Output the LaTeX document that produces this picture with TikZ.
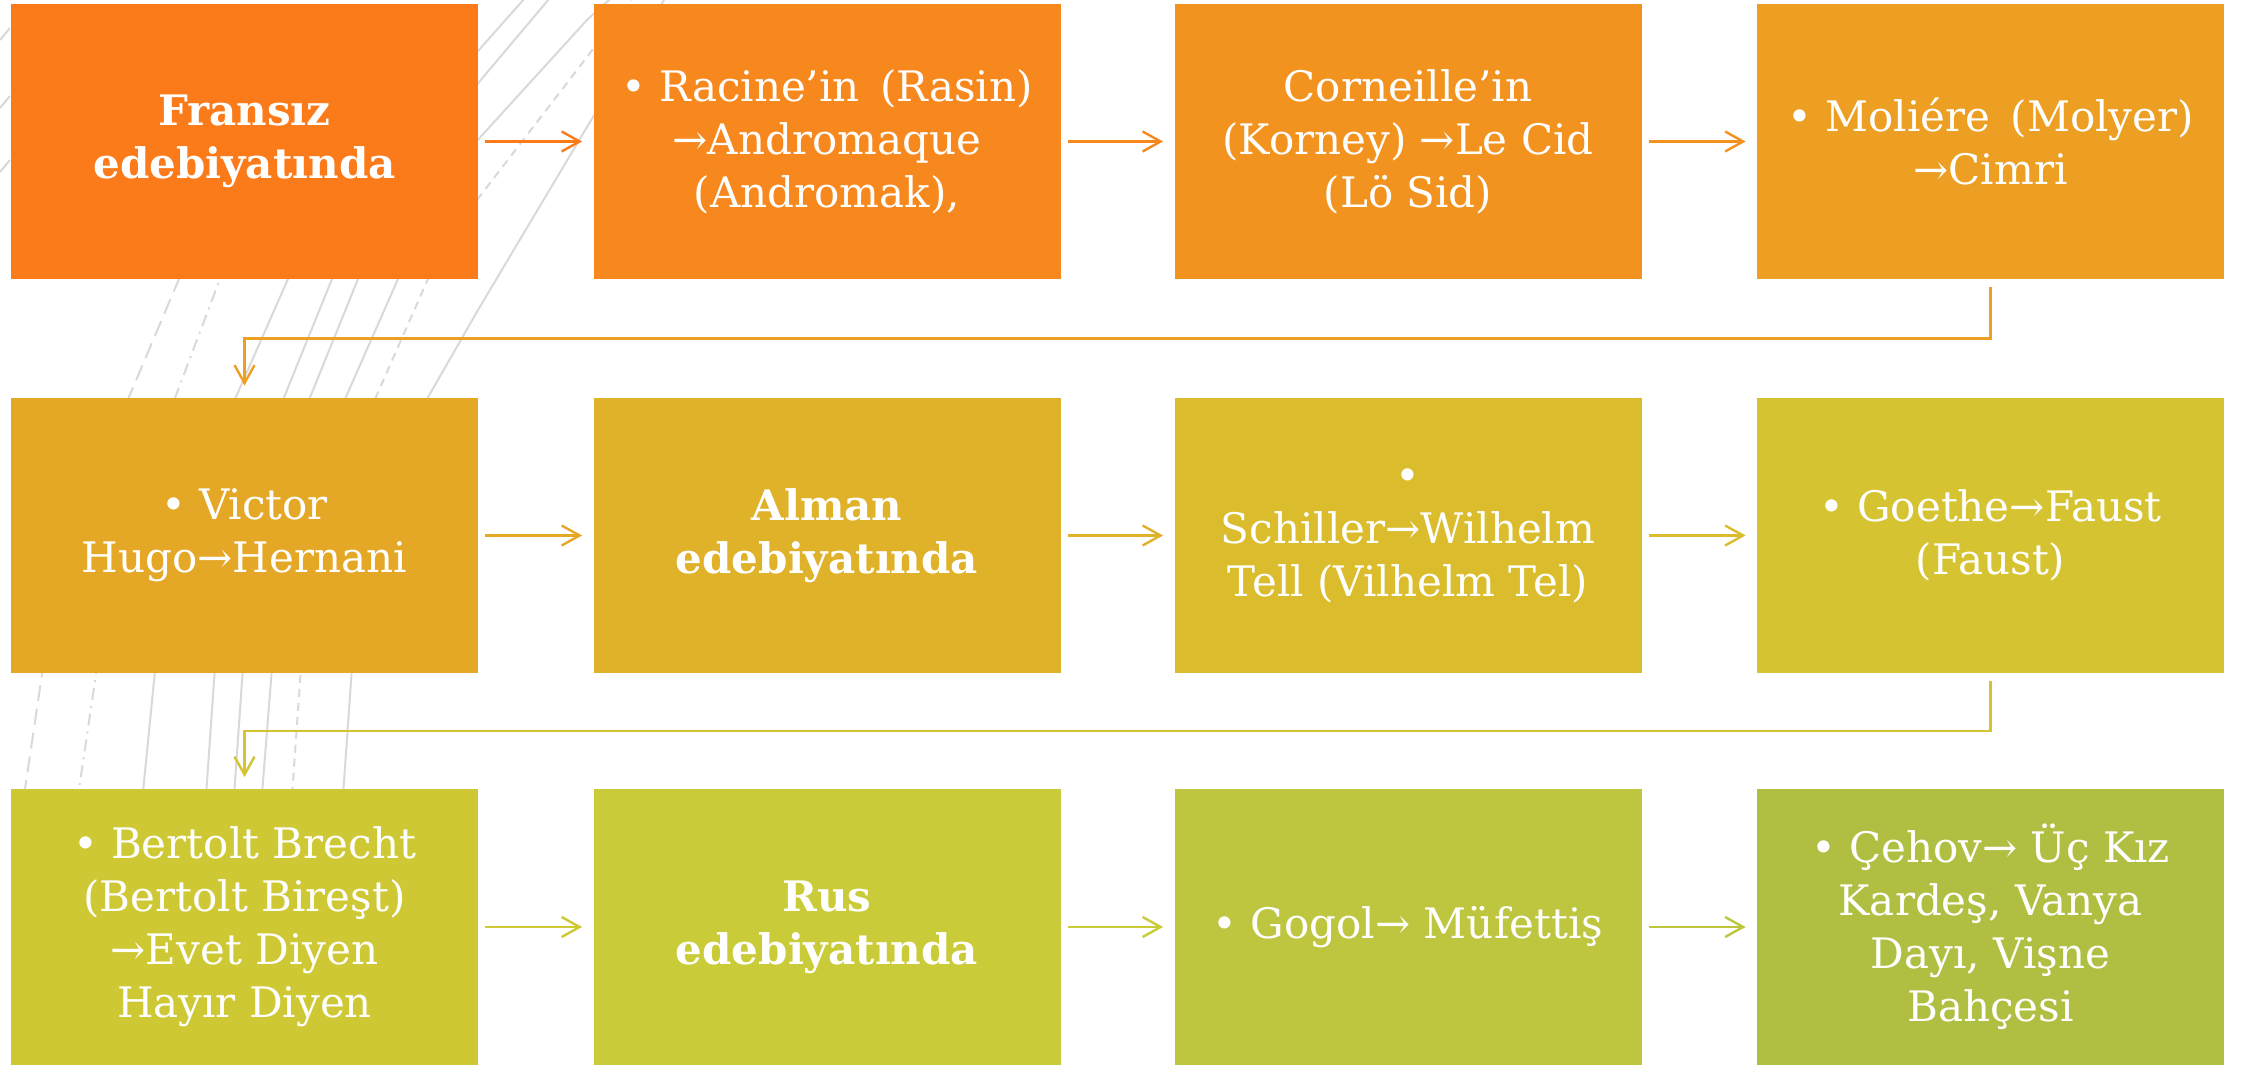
\documentclass[tikz,border=0pt]{standalone}
\usepackage{fontspec}
\setmainfont{DejaVu Serif}
\usetikzlibrary{arrows.meta,calc}
\definecolor{c1}{HTML}{FB7B1A}
\definecolor{c2}{HTML}{F7881E}
\definecolor{c3}{HTML}{F2931F}
\definecolor{c4}{HTML}{EC9F22}
\definecolor{c5}{HTML}{E5A826}
\definecolor{c6}{HTML}{DFB229}
\definecolor{c7}{HTML}{DABC2D}
\definecolor{c8}{HTML}{D6C332}
\definecolor{c9}{HTML}{CFC835}
\definecolor{c10}{HTML}{CACB38}
\definecolor{c11}{HTML}{BDC63E}
\definecolor{c12}{HTML}{B0BF42}
\definecolor{decogray}{HTML}{D9D9D9}
\begin{document}
\begin{tikzpicture}[x=0.5pt,y=-0.5pt,
  box/.style={rectangle, minimum width=233.5pt, minimum height=137.5pt, inner sep=0pt, align=center, text=white, font=\fontsize{21}{26.5}\selectfont},
  boldbox/.style={box, font=\fontsize{21}{26.5}\selectfont\bfseries},
  conn/.style={line width=1.2pt, -{Straight Barb[length=9pt,width=10pt,line width=1.2pt]}, shorten <=3.5pt, shorten >=5.5pt},
  deco/.style={draw=decogray, line width=1pt, line join=round}]
\useasboundingbox (0,0) rectangle (2244,1068);
\fill[white] (0,0) rectangle (2244,1068);
% decorative background lines (mostly hidden behind the boxes)
\draw[deco, dash pattern=on 8pt off 4pt] (20,1060) -- (25,789) -- (42.2,673) -- (128.6,398) -- (179,279) -- (330,30);
\draw[deco, dash pattern=on 6pt off 3pt on 1pt off 3pt] (39,1060) -- (79,789) -- (96.2,673) -- (175,398) -- (220,279) -- (370,30);
\draw[deco] (116.5,1060) -- (143.3,789) -- (154.8,673) -- (235.5,398) -- (288,279) -- (420,40);
\draw[deco] (187.7,1060) -- (206.5,789) -- (214.6,673) -- (283.8,398) -- (332,279) -- (478,51) -- (541,-20);
\draw[deco] (215.7,1060) -- (234.5,789) -- (242.6,673) -- (309.8,398) -- (358,279) -- (478,83.3) -- (565,-20);
\draw[deco] (241,1060) -- (262.4,789) -- (271.6,673) -- (345.5,398) -- (398,279) -- (478,139.7) -- (587,20) -- (620,-10);
\draw[deco, dash pattern=on 4pt off 3pt] (273.7,1060) -- (292.5,789) -- (300.6,673) -- (375.5,398) -- (428,279) -- (478,198.7) -- (587,57) -- (640,-12);
\draw[deco] (324.7,1060) -- (343.5,789) -- (351.6,673) -- (427.6,398) -- (478,310) -- (587,127) -- (670,-10);
\draw[deco] (0,40) -- (10,28);
\draw[deco] (0,108) -- (10,96);
\draw[deco] (0,172) -- (10,160);
% boxes
\node[boldbox, fill=c1] (b1) at (244.5,141.5) {Fransız\\edebiyatında};
\node[box, fill=c2] (b2) at (827,141.5) {• Racine’in\, (Rasin)\\→Andromaque\\(Andromak),};
\node[box, fill=c3] (b3) at (1408,141.5) {Corneille’in\\(Korney) →Le Cid\\(Lö Sid)};
\node[box, fill=c4] (b4) at (1990.5,141.5) {• Moliére\, (Molyer)\\→Cimri};
\node[box, fill=c5] (b5) at (244.5,535.5) {• Victor\\Hugo→Hernani};
\node[boldbox, fill=c6] (b6) at (827,535.5) {Alman\\edebiyatında};
\node[box, fill=c7] (b7) at (1408,535.5) {•\\Schiller→Wilhelm\\Tell (Vilhelm Tel)};
\node[box, fill=c8] (b8) at (1990.5,535.5) {• Goethe→Faust\\(Faust)};
\node[box, fill=c9] (b9) at (244.5,927) {• Bertolt Brecht\\(Bertolt Bireşt)\\→Evet Diyen\\Hayır Diyen};
\node[boldbox, fill=c10] (b10) at (827,927) {Rus\\edebiyatında};
\node[box, fill=c11] (b11) at (1408,927) {• Gogol→ Müfettiş};
\node[box, fill=c12] (b12) at (1990.5,927) {• Çehov→ Üç Kız\\Kardeş, Vanya\\Dayı, Vişne\\Bahçesi};
% connectors
\draw[conn, draw=c1] (b1.east) -- (b2.west);
\draw[conn, draw=c2] (b2.east) -- (b3.west);
\draw[conn, draw=c3] (b3.east) -- (b4.west);
\draw[conn, draw=c4, shorten <=4pt, shorten >=6pt] (b4.south) -- ($(b4.south)!0.5!(b8.north)$) -| (b5.north);
\draw[conn, draw=c5] (b5.east) -- (b6.west);
\draw[conn, draw=c6] (b6.east) -- (b7.west);
\draw[conn, draw=c7] (b7.east) -- (b8.west);
\draw[conn, draw=c8, shorten <=4pt, shorten >=6pt] (b8.south) -- ($(b8.south)!0.5!(b12.north)$) -| (b9.north);
\draw[conn, draw=c9] (b9.east) -- (b10.west);
\draw[conn, draw=c10] (b10.east) -- (b11.west);
\draw[conn, draw=c11] (b11.east) -- (b12.west);
\end{tikzpicture}
\end{document}
